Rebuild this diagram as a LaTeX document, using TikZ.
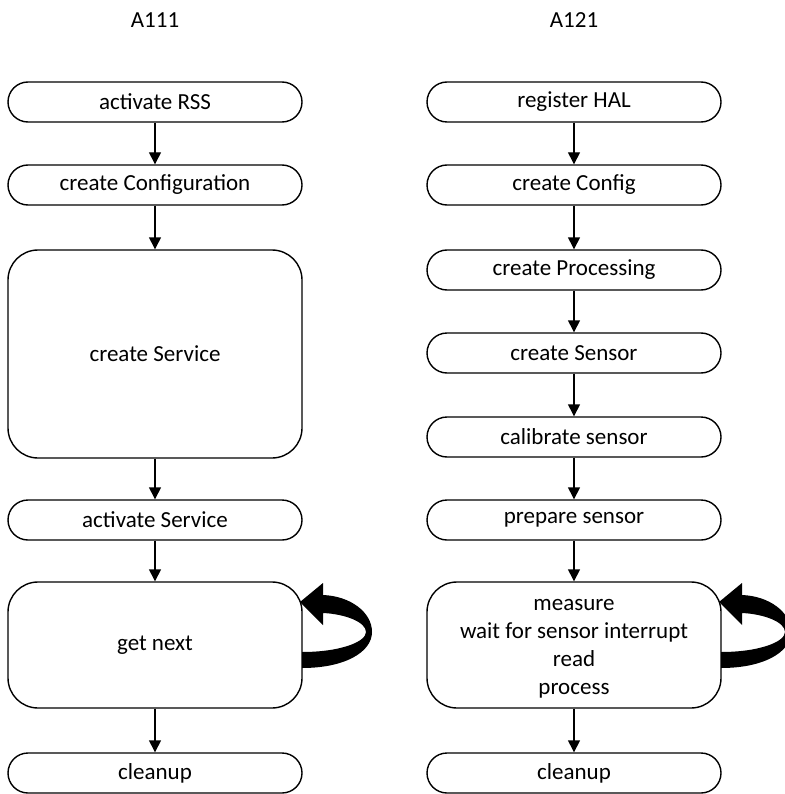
\documentclass[tikz,border=0pt]{standalone}
\usepackage{fontspec}
\setmainfont{Carlito}
\usetikzlibrary{arrows.meta}
\begin{document}
\begin{tikzpicture}[x=1pt,y=-1pt,
  pill/.style={draw,line width=1.4pt,rounded corners=20pt,minimum width=294pt,minimum height=40pt,inner sep=0pt,align=center,font=\fontsize{23}{28}\selectfont},
  bigbox/.style={draw,line width=1.4pt,rounded corners=30pt,minimum width=294pt,inner sep=0pt,align=center,font=\fontsize{23}{28}\selectfont},
  conn/.style={line width=1.4pt,-{Triangle[length=12pt,width=12pt]}},
  title/.style={font=\fontsize{23}{28}\selectfont},
  loop/.style={fill=black}]
\useasboundingbox (0,0) rectangle (784,794);
\node[title] (t1) at (155,20) {A111};
\node[title] (t2) at (574,20) {A121};
% left column
\node[pill] (l1) at (155,102) {activate RSS};
\node[pill] (l2) at (155,185) {create Configuration};
\node[bigbox,minimum height=208pt] (l3) at (155,354) {create Service};
\node[pill] (l4) at (155,520) {activate Service};
\node[bigbox,minimum height=126pt] (l5) at (155,645) {get next};
\node[pill] (l6) at (155,773) {cleanup};
\draw[conn] (l1) -- (l2);
\draw[conn] (l2) -- (l3);
\draw[conn] (l3) -- (l4);
\draw[conn] (l4) -- (l5);
\draw[conn] (l5) -- (l6);
% right column
\node[pill] (r1) at (574,102) {register HAL};
\node[pill] (r2) at (574,185) {create Config};
\node[pill] (r3) at (574,270) {create Processing};
\node[pill] (r4) at (574,353) {create Sensor};
\node[pill] (r5) at (574,437) {calibrate sensor};
\node[pill] (r6) at (574,520) {prepare sensor};
\node[bigbox,minimum height=126pt] (r7) at (574,645) {\strut measure\\wait for sensor interrupt\\read\\process};
\node[pill] (r8) at (574,773) {cleanup};
\draw[conn] (r1) -- (r2);
\draw[conn] (r2) -- (r3);
\draw[conn] (r3) -- (r4);
\draw[conn] (r4) -- (r5);
\draw[conn] (r5) -- (r6);
\draw[conn] (r6) -- (r7);
\draw[conn] (r7) -- (r8);
% loop arrows
\foreach \dx/\n in {0/l5,419/r7}{
  \begin{scope}[xshift=\dx]
  \fill[loop] (302,668) .. controls (345,668) and (372,652) .. (372,632)
    .. controls (372,612) and (350,596) .. (323,595)
    -- (323,583) -- (300,602) -- (323,625) -- (323,613)
    .. controls (345,614) and (366,622) .. (366,632)
    .. controls (366,642) and (340,652) .. (302,652) -- cycle;
  \end{scope}
}
\end{tikzpicture}
\end{document}
